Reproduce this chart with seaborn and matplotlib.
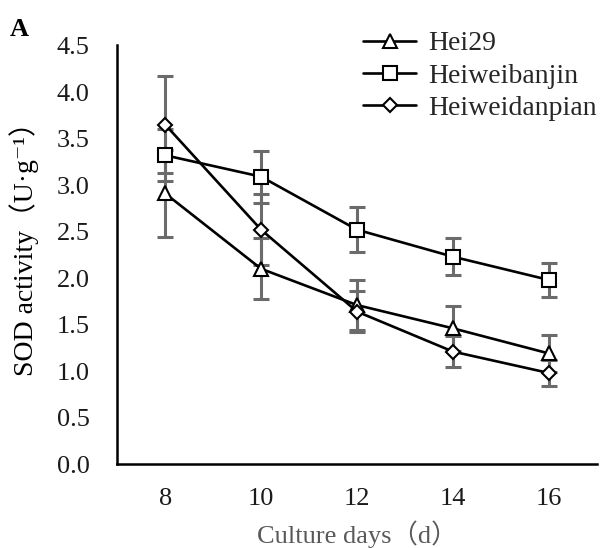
import pandas as pd
import seaborn as sns
import matplotlib.pyplot as plt

days = [8, 10, 12, 14, 16]
cultivars = ["Hei29", "Heiweibanjin", "Heiweidanpian"]
hei29 = [2.91, 2.10, 1.71, 1.46, 1.19]
hei29_err = [0.47, 0.33, 0.27, 0.24, 0.20]
banjin = [3.32, 3.09, 2.52, 2.23, 1.98]
banjin_err = [0.28, 0.28, 0.24, 0.20, 0.18]
danpian = [3.65, 2.52, 1.64, 1.21, 0.98]
danpian_err = [0.52, 0.38, 0.22, 0.17, 0.14]

rows = []
for name, vals, errs in zip(cultivars, [hei29, banjin, danpian],
                            [hei29_err, banjin_err, danpian_err]):
    for d, v, e in zip(days, vals, errs):
        rows.append({"day": d, "sod": v, "err": e, "cultivar": name})
df = pd.DataFrame(rows)

sns.set_theme(style="white")
plt.rcParams["font.family"] = ["Liberation Serif", "Noto Sans CJK SC",
                               "DejaVu Serif"]

fig = plt.figure(figsize=(6.01, 5.48), dpi=100)
ax = fig.add_axes([0.195, 0.153, 0.798, 0.764])

# error bars first, gray, behind the lines
for name in cultivars:
    sub = df[df["cultivar"] == name]
    ax.errorbar(sub["day"], sub["sod"], yerr=sub["err"], fmt="none",
                ecolor="#6b6b6b", elinewidth=2.2, capsize=5.5, capthick=2.2,
                zorder=1)

markers = {"Hei29": "^", "Heiweibanjin": "s", "Heiweidanpian": "D"}
sizes = {"Hei29": 9.5, "Heiweibanjin": 9.5, "Heiweidanpian": 7.5}
for name in cultivars:
    sns.lineplot(data=df[df["cultivar"] == name], x="day", y="sod",
                 color="black", linewidth=1.9, marker=markers[name],
                 markersize=sizes[name], markerfacecolor="white",
                 markeredgecolor="black", markeredgewidth=1.5,
                 label=name, ax=ax, zorder=3)

ax.set_xlim(7, 17)
ax.set_ylim(0, 4.5)
ax.set_xticks([9, 11, 13, 15, 17])
ax.set_xticklabels([])
ax.set_xticks(days, minor=True)
ax.set_xticklabels([str(d) for d in days], minor=True)
ax.set_yticks([i * 0.5 for i in range(10)])
ax.set_yticklabels([f"{i * 0.5:.1f}" for i in range(10)])

ax.tick_params(axis="x", which="major", direction="in", length=5, width=1.8,
               color="black")
ax.tick_params(axis="x", which="minor", length=0, labelsize=19, pad=17,
               labelcolor="#1a1a1a")
ax.tick_params(axis="y", which="major", direction="in", length=5,
               width=1.8, color="black", labelsize=19, pad=20,
               labelcolor="#1a1a1a")

sns.despine(ax=ax)
for side in ["left", "bottom"]:
    ax.spines[side].set_linewidth(1.8)
    ax.spines[side].set_color("black")

ax.set_xlabel("Culture days（d）", fontsize=19, color="#595959", labelpad=8)
ax.set_ylabel("SOD activity（U·g⁻¹）", fontsize=20, color="black")
ax.yaxis.set_label_coords(-0.163, 0.53)

leg = ax.legend(loc="upper right", bbox_to_anchor=(1.0, 1.035),
                frameon=False, fontsize=20, handlelength=1.9,
                labelspacing=0.25, handletextpad=0.43, borderpad=0,
                borderaxespad=0)

fig.text(0.016, 0.935, "A", fontsize=19, fontweight="bold", color="black")

fig.savefig("out.png", dpi=100)
